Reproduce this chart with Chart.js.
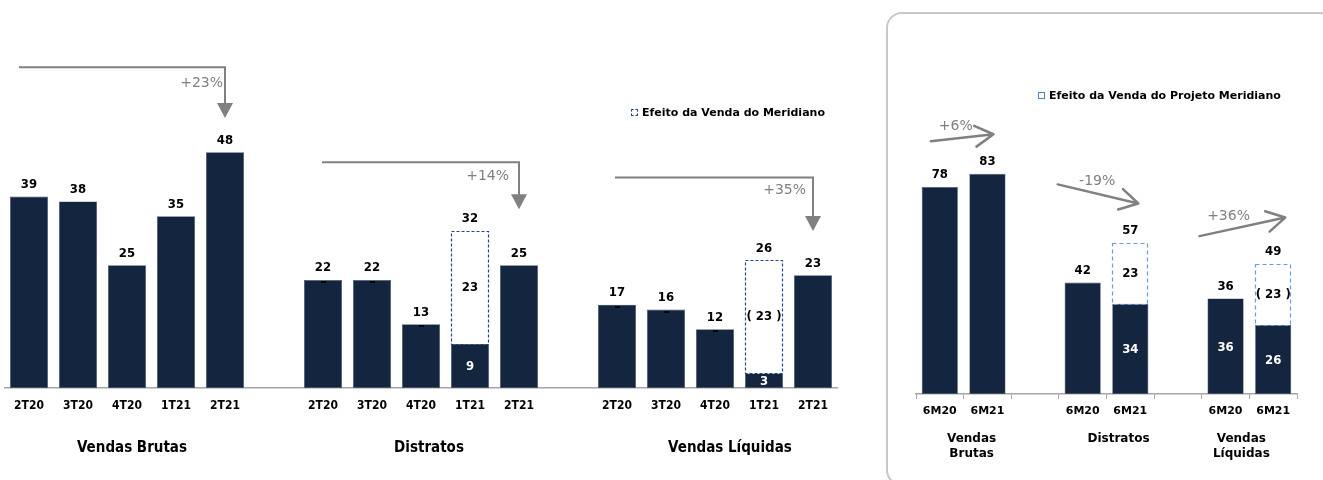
<!DOCTYPE html>
<html lang="pt-BR">
<head>
<meta charset="UTF-8">
<title>Vendas Brutas, Distratos e Vendas Líquidas</title>
<script src="https://cdn.jsdelivr.net/npm/chart.js@4.4.0/dist/chart.umd.min.js"></script>
<style>
    html, body { margin: 0; padding: 0; background: #fff; }
    body { width: 1323px; height: 480px; position: relative; overflow: hidden; font-family: "DejaVu Sans", Verdana, sans-serif; }
    #trimestre { position: absolute; left: 0; top: 0; }
    #semestre { position: absolute; left: 890px; top: 0; }
    .painel { position: absolute; left: 886px; top: 12px; width: 450px; height: 474px; border: 2px solid #c8c8c8; border-radius: 16px; box-sizing: border-box; }
    .legenda { position: absolute; font-weight: bold; font-size: 11px; line-height: 13px; color: #000; white-space: nowrap; }
    .legenda i { display: inline-block; box-sizing: border-box; width: 7px; height: 7px; margin-right: 4px; vertical-align: 0px; }
</style>
</head>
<body>
<div class="painel"></div>
<canvas id="trimestre" width="845" height="480"></canvas>
<canvas id="semestre" width="433" height="480"></canvas>
<div class="legenda" style="left:631px; top:106px;"><i style="border:1px dashed #27467f;"></i>Efeito da Venda do Meridiano</div>
<div class="legenda" style="left:1038px; top:89px;"><i style="border:1px solid #4f81bd;"></i>Efeito da Venda do Projeto Meridiano</div>

<script>
// --- dados trimestrais (R$ milhões) ---
const trimestres = ['2T20', '3T20', '4T20', '1T21', '2T21', '', '2T20', '3T20', '4T20', '1T21', '2T21', '', '2T20', '3T20', '4T20', '1T21', '2T21'];
const trimValores = [39, 38, 25, 35, 48, null, 22, 22, 13, 9, 25, null, 17, 16, 12, 3, 23];
const trimEfeito = [null, null, null, null, null, null, null, null, null, 23, null, null, null, null, null, 23, null];
const trimInterno = [false, false, false, false, false, false, false, false, false, true, false, false, false, false, false, true, false];
const trimMarca = [false, false, false, false, false, false, true, true, true, false, false, false, true, true, true, false, false];
const trimParenteses = [15];

// --- dados semestrais ---
const semestres = ['6M20', '6M21', '', '6M20', '6M21', '', '6M20', '6M21'];
const semValores = [78, 83, null, 42, 34, null, 36, 26];
const semEfeito = [null, null, null, null, 23, null, null, 23];
const semInterno = [false, false, false, false, true, false, true, true];
const semParenteses = [7];

const AZUL = '#13253f';
const CINZA = '#808080';
const FONTE = '"DejaVu Sans", Verdana, sans-serif';
const FONTE_ROTULO = 'bold 13px "DejaVu Sans Condensed", "DejaVu Sans", sans-serif';

// desenha caixas tracejadas, rótulos, setas e títulos dos grupos
const rotulos = {
    id: 'rotulos',
    afterDatasetsDraw(chart, args, o) {
        const ctx = chart.ctx;
        const xs = chart.scales.x, ys = chart.scales.y;
        const d0 = chart.data.datasets[0].data, d1 = chart.data.datasets[1].data;
        const m0 = chart.getDatasetMeta(0).data, m1 = chart.getDatasetMeta(1).data;
        ctx.save();
        ctx.textAlign = 'center';
        ctx.textBaseline = 'middle';

        d0.forEach((v, i) => {
            if (v == null) return;
            const b = m0[i].getProps(['x', 'y', 'base', 'width'], true);
            let topo = b.y, total = v;
            if (d1[i] != null) {
                const e = m1[i].getProps(['x', 'y', 'base', 'width'], true);
                ctx.setLineDash(o.tracejado);
                ctx.strokeStyle = o.corTracejado;
                ctx.lineWidth = 1.2;
                ctx.strokeRect(Math.round(e.x - e.width / 2) + 0.5, Math.round(e.y) + 0.5, Math.round(e.width) - 1, Math.round(e.base - e.y));
                ctx.setLineDash([]);
                ctx.fillStyle = '#000';
                ctx.font = FONTE_ROTULO;
                const t = o.parenteses.includes(i) ? '( ' + d1[i] + ' )' : String(d1[i]);
                ctx.fillText(t, e.x, (e.y + e.base) / 2);
                topo = e.y;
                total += d1[i];
            }
            if (o.interno[i]) {
                ctx.fillStyle = '#fff';
                ctx.font = FONTE_ROTULO;
                ctx.fillText(String(v), b.x, (b.y + b.base) / 2 + 1);
            }
            if (o.marca && o.marca[i]) {
                ctx.fillStyle = '#000';
                ctx.fillRect(Math.round(b.x) - 2, Math.round(b.y) + 1, 5, 2);
            }
            ctx.fillStyle = '#000';
            ctx.font = FONTE_ROTULO;
            ctx.fillText(String(total), b.x, topo - 12);
        });

        // setas de variação
        ctx.strokeStyle = CINZA;
        ctx.fillStyle = CINZA;
        ctx.font = '14px ' + FONTE;
        o.setas.forEach(s => {
            if (s.tipo === 'cotovelo') {
                const x1 = xs.getPixelForValue(s.de) + s.dx;
                const x2 = xs.getPixelForValue(s.ate);
                const yl = ys.getPixelForValue(s.nivel);
                const yp = ys.getPixelForValue(s.ponta);
                ctx.lineWidth = 2;
                ctx.beginPath();
                ctx.moveTo(x1, yl);
                ctx.lineTo(x2, yl);
                ctx.lineTo(x2, yp - 14);
                ctx.stroke();
                ctx.beginPath();
                ctx.moveTo(x2 - 8, yp - 15);
                ctx.lineTo(x2 + 8, yp - 15);
                ctx.lineTo(x2, yp);
                ctx.closePath();
                ctx.fill();
                ctx.textAlign = 'right';
                ctx.fillText(s.texto, x2 - s.tdx, yl + s.tdy);
            } else {
                const x1 = xs.getPixelForValue(s.de) + s.dx1, y1 = ys.getPixelForValue(s.v1);
                const x2 = xs.getPixelForValue(s.ate) + s.dx2, y2 = ys.getPixelForValue(s.v2);
                const ang = Math.atan2(y2 - y1, x2 - x1);
                ctx.lineWidth = 2.5;
                ctx.lineCap = 'round';
                ctx.beginPath();
                ctx.moveTo(x1, y1);
                ctx.lineTo(x2, y2);
                [-1, 1].forEach(k => {
                    ctx.moveTo(x2, y2);
                    ctx.lineTo(x2 - 21 * Math.cos(ang + k * 0.52), y2 - 21 * Math.sin(ang + k * 0.52));
                });
                ctx.stroke();
                ctx.textAlign = 'center';
                ctx.fillText(s.texto, xs.getPixelForValue(s.de) + s.tx, ys.getPixelForValue(s.tv));
            }
        });

        // títulos dos grupos
        ctx.fillStyle = '#000';
        ctx.textAlign = 'center';
        ctx.font = o.fonteGrupo;
        o.grupos.forEach(g => {
            const x = xs.getPixelForValue(g.centro) + g.dx;
            g.linhas.forEach((l, k) => ctx.fillText(l, x, chart.chartArea.bottom + o.yGrupo + k * 15));
        });
        ctx.restore();
    }
};

Chart.defaults.font.family = FONTE;
Chart.defaults.color = '#000';

function montar(id, labels, valores, efeito, barPct, ymax, eixo, padding, plug) {
    return new Chart(document.getElementById(id), {
        type: 'bar',
        data: {
            labels: labels,
            datasets: [
                { label: 'Realizado', data: valores, backgroundColor: AZUL, borderColor: '#4a5a70', borderWidth: 0.6, borderSkipped: false },
                { label: 'Efeito da Venda do Meridiano', data: efeito, backgroundColor: 'rgba(255,255,255,0)', borderWidth: 0 }
            ]
        },
        options: {
            responsive: false,
            animation: false,
            layout: { padding: padding },
            datasets: { bar: { categoryPercentage: 1, barPercentage: barPct } },
            scales: {
                x: Object.assign({ stacked: true }, eixo),
                y: { stacked: true, display: false, min: 0, max: ymax }
            },
            plugins: {
                legend: { display: false },
                tooltip: { enabled: false },
                rotulos: plug
            }
        },
        plugins: [rotulos]
    });
}

montar('trimestre', trimestres, trimValores, trimEfeito, 0.78, 79,
    {
        grid: { display: false, drawTicks: false },
        border: { display: true, color: '#a6a6a6', width: 1.5 },
        ticks: { padding: 10, font: { family: '"DejaVu Sans Condensed", "DejaVu Sans", sans-serif', size: 12, weight: 'bold' }, maxRotation: 0, autoSkip: false }
    },
    { left: 4.5, right: 7.5, top: 0, bottom: 57.4 },
    {
        tracejado: [3, 2], corTracejado: '#27467f',
        interno: trimInterno, marca: trimMarca, parenteses: trimParenteses,
        setas: [
            { tipo: 'cotovelo', de: 0, dx: -10, ate: 4, nivel: 65.3, ponta: 55, texto: '+23%', tdx: 2, tdy: 16 },
            { tipo: 'cotovelo', de: 6, dx: -1, ate: 10, nivel: 46, ponta: 36.4, texto: '+14%', tdx: 10, tdy: 14 },
            { tipo: 'cotovelo', de: 12, dx: -2, ate: 16, nivel: 42.9, ponta: 32, texto: '+35%', tdx: 7, tdy: 13 }
        ],
        fonteGrupo: 'bold 15px "DejaVu Sans Condensed", "DejaVu Sans", sans-serif',
        yGrupo: 60,
        grupos: [
            { centro: 2, dx: 5, linhas: ['Vendas Brutas'] },
            { centro: 8, dx: 8, linhas: ['Distratos'] },
            { centro: 14, dx: 15, linhas: ['Vendas Líquidas'] }
        ]
    });

montar('semestre', semestres, semValores, semEfeito, 0.76, 148.5,
    {
        grid: { display: true, drawOnChartArea: false, drawTicks: true, tickLength: 5, color: '#a6a6a6', offset: true },
        border: { display: true, color: '#a6a6a6', width: 1.5 },
        ticks: { padding: 6, font: { size: 11, weight: 'bold' }, maxRotation: 0, autoSkip: false }
    },
    { left: 26, right: 26, top: 0, bottom: 55.8 },
    {
        tracejado: [4, 3], corTracejado: '#6c9bd8',
        interno: semInterno, parenteses: semParenteses,
        setas: [
            { tipo: 'reta', de: 0, dx1: -9, v1: 95.3, ate: 1, dx2: 6, v2: 97.9, texto: '+6%', tx: 16, tv: 101 },
            { tipo: 'reta', de: 3, dx1: -25, v1: 79, ate: 4, dx2: 8, v2: 71.8, texto: '-19%', tx: 14.5, tv: 80.3 },
            { tipo: 'reta', de: 6, dx1: -26, v1: 59.5, ate: 7, dx2: 12, v2: 66.5, texto: '+36%', tx: 3, tv: 67.1 }
        ],
        fonteGrupo: 'bold 12px ' + FONTE,
        yGrupo: 44.5,
        grupos: [
            { centro: 0.5, dx: 8, linhas: ['Vendas', 'Brutas'] },
            { centro: 3.5, dx: 12, linhas: ['Distratos'] },
            { centro: 6.5, dx: -8, linhas: ['Vendas', 'Líquidas'] }
        ]
    });
</script>
</body>
</html>
